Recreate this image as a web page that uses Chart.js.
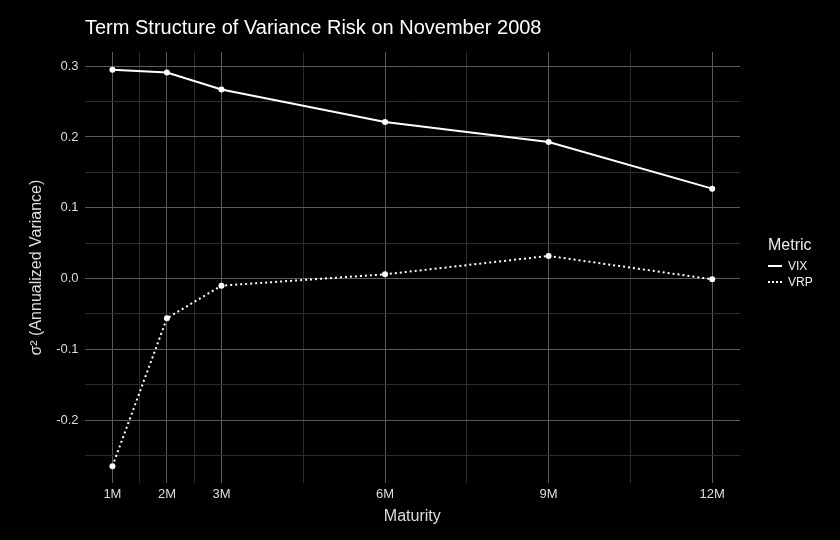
<!DOCTYPE html>
<html><head><script src="https://cdn.jsdelivr.net/npm/chart.js"></script>
<style>body{margin:0;background:#000}#w{position:relative;width:840px;height:540px;background:#000}
#t{position:absolute;left:85px;top:16px;color:#fff;font:20px "Liberation Sans",Arial,sans-serif}
#lg{position:absolute;left:768px;top:236px;color:#eee;font-family:"Liberation Sans",Arial,sans-serif}
.r{display:flex;align-items:center;font-size:12px;height:16px}.s{width:14px;margin-right:6px;border-top:2px solid #fff}</style></head>
<body><div id="w"><canvas id="c" width="840" height="540"></canvas>
<div id="t">Term Structure of Variance Risk on November 2008</div>
<div id="lg"><div style="font-size:16px;margin-bottom:4px">Metric</div>
<div class="r"><span class="s"></span>VIX</div><div class="r"><span class="s" style="border-top:2px dotted #fff"></span>VRP</div></div></div>
<script>
const maturities=[1,2,3,6,9,12];
const tickLabels=["1M","2M","3M","6M","9M","12M"];
const vix=[0.295,0.291,0.267,0.221,0.193,0.127];
const vrp=[-0.265,-0.056,-0.010,0.006,0.032,-0.001];
const xMinor=[1.5,2.5,4.5,7.5,10.5];
const yMajor=[-0.2,-0.1,0,0.1,0.2,0.3];
const yMinor=[-0.25,-0.15,-0.05,0.05,0.15,0.25];
const pts=a=>maturities.map((m,i)=>({x:m,y:a[i]}));
const isMaj=(v,arr)=>arr.some(a=>Math.abs(a-v)<1e-6);
const font={family:"Liberation Sans, Arial, sans-serif",size:13};
new Chart(document.getElementById('c'),{type:'line',
data:{datasets:[
{data:pts(vix),borderColor:'#fff',backgroundColor:'#fff',borderWidth:2,pointRadius:3,pointBorderWidth:0,tension:0},
{data:pts(vrp),borderColor:'#fff',backgroundColor:'#fff',borderWidth:2,borderDash:[2,3],pointRadius:3,pointBorderWidth:0,tension:0}]},
options:{responsive:false,animation:false,layout:{padding:{left:23,right:100,top:52,bottom:10}},
plugins:{legend:{display:false},tooltip:{enabled:false}},
scales:{
x:{type:'linear',min:0.49,max:12.51,
afterBuildTicks:s=>{s.ticks=[...maturities,...xMinor].sort((a,b)=>a-b).map(v=>({value:v}));},
ticks:{color:'#ddd',font,autoSkip:false,maxRotation:0,callback:v=>{const i=maturities.indexOf(v);return i>=0?tickLabels[i]:'';}},
grid:{color:c=>isMaj(c.tick.value,maturities)?'#5a5a5a':'#2c2c2c',drawTicks:false,lineWidth:1},border:{display:false},
title:{display:true,text:'Maturity',color:'#ddd',font:{family:font.family,size:16},padding:{top:2}}},
y:{min:-0.289,max:0.32,
afterBuildTicks:s=>{s.ticks=[...yMajor,...yMinor].sort((a,b)=>a-b).map(v=>({value:v}));},
ticks:{color:'#ddd',font,autoSkip:false,padding:6,callback:v=>isMaj(v,yMajor)?v.toFixed(1):''},
grid:{color:c=>isMaj(c.tick.value,yMajor)?'#5a5a5a':'#2c2c2c',drawTicks:false},border:{display:false},
title:{display:true,text:'σ² (Annualized Variance)',color:'#ddd',font:{family:font.family,size:16}}}}}});
</script></body></html>
